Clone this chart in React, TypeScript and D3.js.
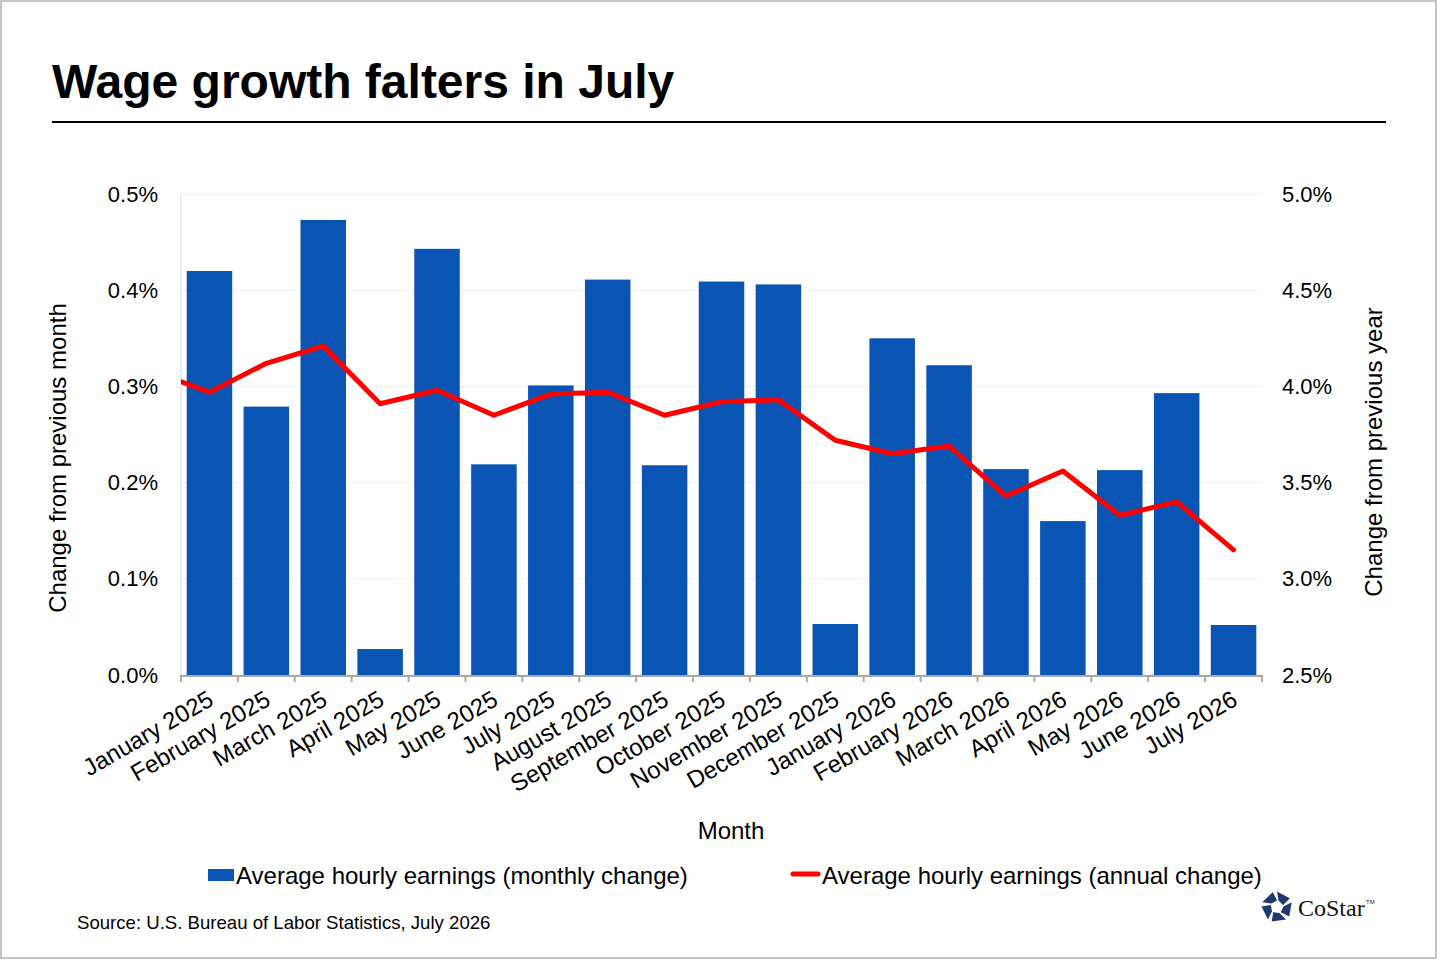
import React from "react";
import * as d3 from "d3";

const months = [
  "January 2025", "February 2025", "March 2025", "April 2025", "May 2025", "June 2025",
  "July 2025", "August 2025", "September 2025", "October 2025", "November 2025", "December 2025",
  "January 2026", "February 2026", "March 2026", "April 2026", "May 2026", "June 2026", "July 2026",
];
// monthly change, %
const monthlyChange = [
  0.42, 0.279, 0.473, 0.027, 0.443, 0.219, 0.301, 0.411, 0.218, 0.409, 0.406, 0.053,
  0.35, 0.322, 0.214, 0.16, 0.213, 0.293, 0.052,
];
// annual change, % (series begins one month earlier, December 2024, clipped at the plot edge)
const lineMonths = ["December 2024", ...months];
const annualChange = [
  4.08, 3.97, 4.12, 4.21, 3.91, 3.98, 3.85, 3.96, 3.97, 3.85, 3.92, 3.93, 3.72,
  3.65, 3.69, 3.43, 3.56, 3.33, 3.40, 3.15,
];
const leftTicks = [0, 0.1, 0.2, 0.3, 0.4, 0.5];
const rightTicks = [2.5, 3.0, 3.5, 4.0, 4.5, 5.0];

const title = "Wage growth falters in July";
const leftTitle = "Change from previous month";
const rightTitle = "Change from previous year";
const xTitle = "Month";
const barLegend = "Average hourly earnings (monthly change)";
const lineLegend = "Average hourly earnings (annual change)";
const source = "Source: U.S. Bureau of Labor Statistics, July 2026";

const W = 1440;
const H = 960;
const plot = { left: 181, right: 1262, top: 194, bottom: 675 };
const BLUE = "#0A55B4";
const RED = "#FF0000";
const FONT = "'Liberation Sans', Arial, sans-serif";

export default function App() {
  const x = d3
    .scaleBand<string>()
    .domain(months)
    .range([plot.left, plot.right])
    .paddingInner(0.2)
    .paddingOuter(0.1);
  const step = x.step();
  const xLine = d3
    .scaleBand<string>()
    .domain(lineMonths)
    .range([plot.left - step, plot.right])
    .paddingInner(0.2)
    .paddingOuter(0.1);
  const yL = d3.scaleLinear().domain([0, 0.5]).range([plot.bottom, plot.top]);
  const yR = d3.scaleLinear().domain([2.5, 5.0]).range([plot.bottom, plot.top]);

  const line = d3
    .line<number>()
    .x((_, i) => (xLine(lineMonths[i]) as number) + xLine.bandwidth() / 2)
    .y((d) => yR(d));

  const boundaries = d3.range(months.length + 1).map((i) => plot.left + i * step);

  // logo pieces
  const logoC = { x: 1277, y: 907 };
  const logoPieces = d3.range(5).map((k) => {
    const a0 = ((-90 + 72 * k) * Math.PI) / 180;
    const a1 = ((-90 + 72 * k + 56) * Math.PI) / 180;
    const a2 = ((-90 + 72 * k + 72) * Math.PI) / 180;
    const R = 15.5;
    const r = 6.5;
    const p = (a: number, rad: number) => [logoC.x + rad * Math.cos(a), logoC.y + rad * Math.sin(a)];
    return [p(a0, R), p(a1, R), p(a2, r), p(a0 + 0.25, r)];
  });

  return (
    <svg
      width={W}
      height={H}
      viewBox={`0 0 ${W} ${H}`}
      style={{ position: "absolute", left: 0, top: 0, background: "#fff" }}
      fontFamily={FONT}
    >
      <rect x={0} y={0} width={W} height={H} fill="#fff" />
      <rect x={1} y={1} width={1435} height={957} fill="none" stroke="#c4c4c4" strokeWidth={2} />

      <text x={52} y={98} fontSize={48} fontWeight="bold" fill="#000">
        {title}
      </text>
      <line x1={52} x2={1386} y1={122} y2={122} stroke="#000" strokeWidth={2} />

      <defs>
        <clipPath id="plotClip">
          <rect x={plot.left} y={plot.top - 10} width={plot.right - plot.left} height={plot.bottom - plot.top + 10} />
        </clipPath>
      </defs>

      {leftTicks.map((t) => (
        <line key={"g" + t} x1={plot.left} x2={plot.right} y1={yL(t)} y2={yL(t)} stroke="#eeeeee" strokeWidth={1} />
      ))}
      <line x1={plot.left} x2={plot.left} y1={plot.top} y2={plot.bottom} stroke="#d9d9d9" strokeWidth={1} />

      {months.map((m, i) => (
        <rect
          key={m}
          x={x(m)}
          y={yL(monthlyChange[i])}
          width={x.bandwidth()}
          height={yL(0) - yL(monthlyChange[i])}
          fill={BLUE}
        />
      ))}

      <line x1={plot.left} x2={plot.right} y1={plot.bottom + 1} y2={plot.bottom + 1} stroke="#a9a9a9" strokeWidth={2} />
      {boundaries.map((bx, i) => (
        <line key={"t" + i} x1={bx} x2={bx} y1={plot.bottom} y2={plot.bottom + 7} stroke="#a9a9a9" strokeWidth={2} />
      ))}

      <path
        d={line(annualChange) || ""}
        fill="none"
        stroke={RED}
        strokeWidth={5}
        strokeLinejoin="round"
        strokeLinecap="round"
        clipPath="url(#plotClip)"
      />

      {leftTicks.map((t) => (
        <text key={"l" + t} x={158} y={yL(t)} fontSize={22} textAnchor="end" dominantBaseline="central" fill="#000">
          {d3.format(".1f")(t) + "%"}
        </text>
      ))}
      {rightTicks.map((t) => (
        <text key={"r" + t} x={1282} y={yR(t)} fontSize={22} textAnchor="start" dominantBaseline="central" fill="#000">
          {d3.format(".1f")(t) + "%"}
        </text>
      ))}

      {months.map((m) => (
        <text
          key={"x" + m}
          transform={`translate(${(x(m) as number) + x.bandwidth() / 2 - 3},${plot.bottom + 14}) rotate(-30)`}
          textAnchor="end"
          dy="0.72em"
          fontSize={24}
          fill="#000"
        >
          {m}
        </text>
      ))}

      <text
        transform={`translate(57,458) rotate(-90)`}
        textAnchor="middle"
        dominantBaseline="central"
        fontSize={24}
        fill="#000"
      >
        {leftTitle}
      </text>
      <text
        transform={`translate(1373,452) rotate(-90)`}
        textAnchor="middle"
        dominantBaseline="central"
        fontSize={24}
        fill="#000"
      >
        {rightTitle}
      </text>
      <text x={731} y={839} textAnchor="middle" fontSize={24} fill="#000">
        {xTitle}
      </text>

      <rect x={208} y={869} width={26} height={12} fill={BLUE} />
      <text x={236} y={884} fontSize={24} fill="#000">
        {barLegend}
      </text>
      <line x1={793} x2={818} y1={874} y2={874} stroke={RED} strokeWidth={5} strokeLinecap="round" />
      <text x={822} y={884} fontSize={24} fill="#000">
        {lineLegend}
      </text>

      <text x={77} y={929} fontSize={18.6} fill="#000">
        {source}
      </text>

      {logoPieces.map((pts, i) => (
        <polygon key={"lp" + i} points={pts.map((p) => p.join(",")).join(" ")} fill="#1F3A73" />
      ))}
      <text x={1298} y={916} fontSize={24} fontFamily="'Liberation Serif', 'Times New Roman', serif" fill="#111">
        CoStar
      </text>
      <text x={1366} y={904} fontSize={6} fontFamily={FONT} fill="#111">
        TM
      </text>
    </svg>
  );
}
